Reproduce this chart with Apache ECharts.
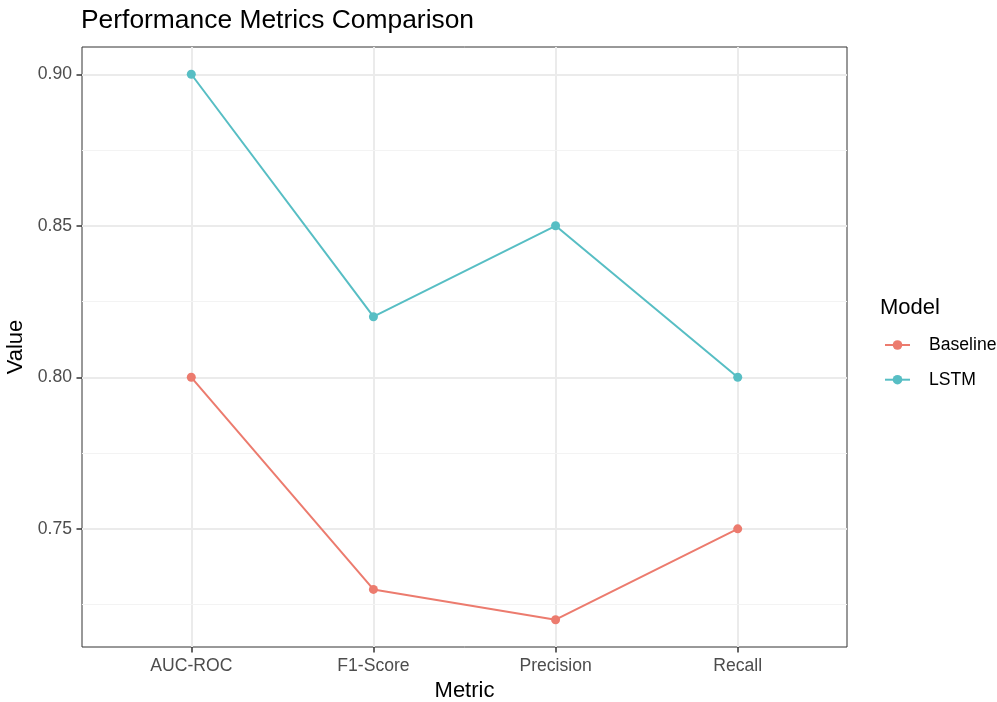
<!DOCTYPE html>
<html>
<head>
<meta charset="utf-8">
<script src="https://cdn.jsdelivr.net/npm/echarts@6/dist/echarts.min.js"></script>
<style>
html,body{margin:0;padding:0;background:#fff;}
#chart{width:997px;height:702px;}
</style>
</head>
<body>
<div id="chart"></div>
<script>
const categories = ['AUC-ROC', 'F1-Score', 'Precision', 'Recall'];
const seriesNames = ['Baseline', 'LSTM'];
const baselineValues = [0.80, 0.73, 0.72, 0.75];
const lstmValues = [0.90, 0.82, 0.85, 0.80];
const yMajorTicks = [0.75, 0.80, 0.85, 0.90];
const yMinorTicks = [0.725, 0.775, 0.825, 0.875];
const yRange = [0.711, 0.909];
const xRange = [-0.6, 3.6];
const xTickPositions = [0, 1, 2, 3];

const colors = ['#ec7b6e', '#57bec4'];
const font = 'Liberation Sans, Arial, Helvetica, sans-serif';

const chart = echarts.init(document.getElementById('chart'), null, {renderer: 'canvas'});

function toPairs(vals) { return vals.map((v, i) => [xTickPositions[i], v]); }

const option = {
  backgroundColor: '#ffffff',
  animation: false,
  title: [
    {text: 'Performance Metrics Comparison', left: 81, top: 8, padding: 0,
     textStyle: {fontFamily: font, fontSize: 26.4, fontWeight: 'normal', color: '#000'}},
    {text: 'Model', left: 880, top: 297, padding: 0,
     textStyle: {fontFamily: font, fontSize: 22, fontWeight: 'normal', color: '#000'}}
  ],
  legend: {
    data: seriesNames,
    orient: 'vertical',
    left: 879,
    top: 331,
    itemWidth: 25,
    itemHeight: 12,
    itemGap: 16.7,
    textStyle: {fontFamily: font, fontSize: 17.6, color: '#000', padding: [0, 0, 0, 14]}
  },
  grid: {left: 82, top: 47, width: 765, height: 600, show: true, borderColor: '#333333', borderWidth: 1, backgroundColor: 'transparent', containLabel: false, outerBoundsMode: 'none'},
  xAxis: {
    type: 'value',
    min: xRange[0], max: xRange[1],
    name: 'Metric', nameLocation: 'middle', nameGap: 30,
    nameTextStyle: {fontFamily: font, fontSize: 22, color: '#000'},
    axisLine: {show: false, onZero: false},
    axisTick: {show: true, length: 5.5, lineStyle: {color: '#333', width: 1.5}, customValues: xTickPositions},
    axisLabel: {customValues: xTickPositions, formatter: v => categories[Math.round(v)], fontFamily: font, fontSize: 17.6, color: '#4d4d4d', margin: 10},
    splitLine: {show: true, lineStyle: {color: '#ebebeb', width: 2}},
    minorSplitLine: {show: false}
  },
  yAxis: [
    {
      type: 'value',
      min: yRange[0], max: yRange[1],
      name: 'Value', nameLocation: 'middle', nameGap: 52, nameRotate: 90,
      nameTextStyle: {fontFamily: font, fontSize: 22, color: '#000'},
      axisLine: {show: false, onZero: false},
      axisTick: {show: true, length: 5.5, lineStyle: {color: '#333', width: 1.5}, customValues: yMajorTicks},
      axisLabel: {customValues: yMajorTicks, formatter: v => v.toFixed(2), fontFamily: font, fontSize: 17.6, color: '#4d4d4d', margin: 10},
      splitLine: {show: true, lineStyle: {color: '#ebebeb', width: 2}},
      z: 2
    },
    {
      type: 'value',
      min: yRange[0], max: yRange[1],
      position: 'left',
      axisLine: {show: false, onZero: false},
      axisTick: {show: false, customValues: yMinorTicks},
      axisLabel: {show: false, customValues: yMinorTicks},
      splitLine: {show: true, lineStyle: {color: '#f3f3f3', width: 1.2}},
      z: 1
    }
  ],
  series: [
    {name: seriesNames[0], type: 'line', data: toPairs(baselineValues), color: colors[0],
     symbol: 'circle', symbolSize: 9, lineStyle: {width: 2}, z: 5},
    {name: seriesNames[1], type: 'line', data: toPairs(lstmValues), color: colors[1],
     symbol: 'circle', symbolSize: 9, lineStyle: {width: 2}, z: 5}
  ]
};
chart.setOption(option);
</script>
</body>
</html>
